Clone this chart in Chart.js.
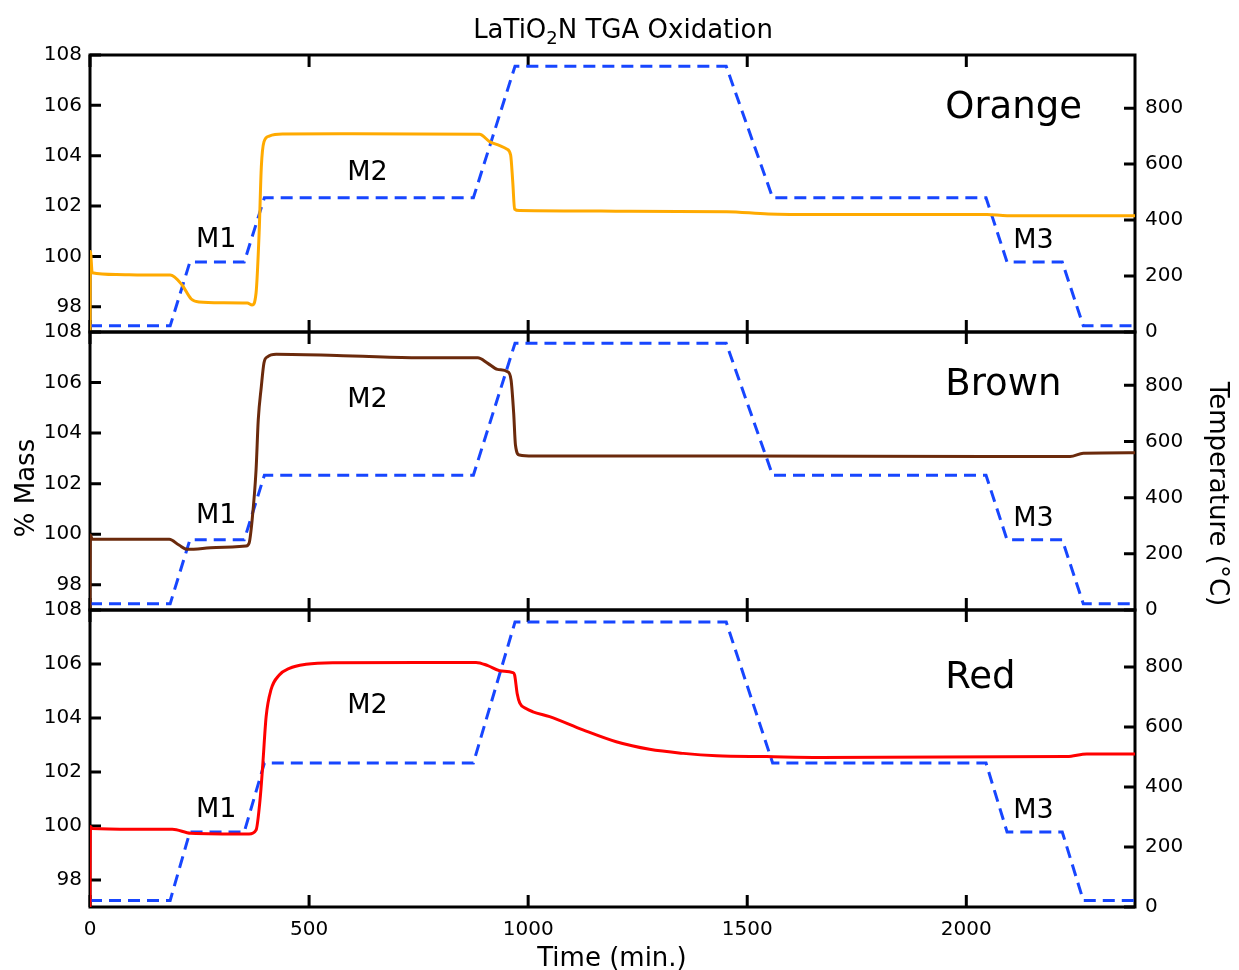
<!DOCTYPE html>
<html>
<head>
<meta charset="utf-8">
<title>LaTiO2N TGA Oxidation</title>
<script src="https://cdn.jsdelivr.net/npm/chart.js@4.4.1/dist/chart.umd.min.js"></script>
<style>
  body { margin: 0; background: #fff; }
  #wrap { position: relative; width: 1239px; height: 970px; }
  #wrap canvas { position: absolute; left: 0; top: 0; }
</style>
</head>
<body>
<div id="wrap">
  <canvas id="orange" width="1239" height="970"></canvas>
  <canvas id="brown" width="1239" height="970"></canvas>
  <canvas id="red" width="1239" height="970"></canvas>
</div>
<script>
// furnace program, shared by all three runs (min, degC)
const tempTime = [0, 183, 228, 352, 398, 875, 970, 1452, 1558, 2045, 2093, 2219, 2267, 2385];
const tempC    = [22, 22, 250, 250, 480, 480, 950, 950, 480, 480, 250, 250, 22, 22];

// % mass traces
const orangeTime = [0, 1, 5, 60, 120, 183, 210, 231, 249, 300, 359, 370, 379, 386, 391, 397, 409, 439, 600, 889, 912, 935, 951, 960, 965, 969, 980, 1200, 1453, 1548, 1666, 2047, 2093, 2385];
const orangeMass = [97.0, 100.2, 99.35, 99.28, 99.26, 99.26, 98.87, 98.31, 98.19, 98.16, 98.15, 98.07, 98.55, 100.93, 103.55, 104.55, 104.78, 104.86, 104.87, 104.85, 104.56, 104.40, 104.27, 104.03, 102.92, 101.88, 101.82, 101.80, 101.78, 101.69, 101.67, 101.67, 101.62, 101.62];

const brownTime = [0, 1, 5, 100, 181, 203, 222, 288, 356, 363, 370, 379, 384, 391, 397, 405, 425, 600, 752, 885, 908, 930, 953, 961, 967, 971, 980, 1011, 1500, 2047, 2237, 2267, 2385];
const brownMass = [97.0, 99.97, 99.80, 99.80, 99.80, 99.57, 99.40, 99.47, 99.53, 99.64, 100.56, 102.54, 104.52, 105.84, 106.77, 107.02, 107.12, 107.05, 106.98, 106.98, 106.76, 106.52, 106.43, 106.10, 104.78, 103.53, 103.13, 103.09, 103.09, 103.07, 103.07, 103.20, 103.22];

const redTime = [0, 1, 5, 97, 188, 230, 363, 379, 388, 394, 402, 413, 432, 455, 493, 554, 752, 881, 908, 935, 965, 969, 975, 981, 995, 1011, 1049, 1125, 1201, 1277, 1354, 1430, 1544, 1666, 2230, 2275, 2385];
const redMass = [97.0, 99.98, 99.91, 99.88, 99.88, 99.73, 99.70, 99.85, 100.96, 102.20, 104.05, 105.04, 105.59, 105.84, 105.99, 106.05, 106.06, 106.06, 105.94, 105.75, 105.68, 105.60, 104.90, 104.55, 104.35, 104.23, 104.05, 103.56, 103.12, 102.84, 102.69, 102.60, 102.57, 102.54, 102.57, 102.67, 102.67];

// axes
const timeTicks = [0, 500, 1000, 1500, 2000];
const massTicks = [98, 100, 102, 104, 106, 108];
const tempTicks = [0, 200, 400, 600, 800];
const stepLabels = ['M1', 'M2', 'M3'];

const FONT = '"DejaVu Sans", "Noto Sans", sans-serif';
const tickFont = { family: FONT, size: 20 };
Chart.defaults.color = '#000';

const panels = [
  { id: 'orange', name: 'Orange', color: '#ffaa00', time: orangeTime, mass: orangeMass,
    top: 55, bottom: 332, nameAt: [1952, 105.5],
    marks: [[242, 100.37], [587, 103.04], [2107, 100.33]] },
  { id: 'brown', name: 'Brown', color: '#6b2a0c', time: brownTime, mass: brownMass,
    top: 332, bottom: 610, nameAt: [1952, 105.51],
    marks: [[242, 100.44], [587, 105.03], [2107, 100.32]] },
  { id: 'red', name: 'Red', color: '#ff0000', time: redTime, mass: redMass,
    top: 610, bottom: 907, nameAt: [1952, 105.11],
    marks: [[242, 100.33], [587, 104.19], [2107, 100.30]] }
];

const toPoints = (xs, ys) => xs.map((x, i) => ({ x, y: ys[i] }));
const fixTicks = list => scale => { scale.ticks = list.map(v => ({ value: v })); };

// box around each panel with inward tick marks, under the traces
const framePlugin = {
  id: 'frame',
  beforeDatasetsDraw(chart) {
    const { ctx, chartArea: a, scales } = chart;
    ctx.save();
    ctx.strokeStyle = '#000';
    ctx.lineWidth = 3;
    ctx.strokeRect(a.left, a.top, a.right - a.left, a.bottom - a.top);
    ctx.beginPath();
    timeTicks.forEach(v => {
      const x = scales.x.getPixelForValue(v);
      ctx.moveTo(x, a.top); ctx.lineTo(x, a.top + 12);
      ctx.moveTo(x, a.bottom); ctx.lineTo(x, a.bottom - 12);
    });
    massTicks.forEach(v => {
      const y = scales.mass.getPixelForValue(v);
      ctx.moveTo(a.left, y); ctx.lineTo(a.left + 11, y);
    });
    tempTicks.forEach(v => {
      const y = scales.temp.getPixelForValue(v);
      ctx.moveTo(a.right, y); ctx.lineTo(a.right - 11, y);
    });
    ctx.stroke();
    ctx.restore();
  }
};

// sample name and M1..M3 step labels
const notesPlugin = {
  id: 'notes',
  afterDatasetsDraw(chart, args, opts) {
    const p = panels[opts.panel];
    const { ctx, scales: { x, mass } } = chart;
    ctx.save();
    ctx.fillStyle = '#000';
    ctx.textAlign = 'left';
    ctx.textBaseline = 'alphabetic';
    ctx.font = '37px ' + FONT;
    ctx.fillText(p.name, x.getPixelForValue(p.nameAt[0]), mass.getPixelForValue(p.nameAt[1]));
    ctx.font = '27px ' + FONT;
    p.marks.forEach((m, i) => {
      ctx.fillText(stepLabels[i], x.getPixelForValue(m[0]), mass.getPixelForValue(m[1]));
    });
    ctx.restore();
  }
};

// figure title and the shared axis titles
const pageTextPlugin = {
  id: 'pageText',
  afterDraw(chart) {
    const ctx = chart.ctx;
    ctx.save();
    ctx.fillStyle = '#000';
    ctx.textBaseline = 'alphabetic';

    const big = '26px ' + FONT, sub = '18px ' + FONT;
    const parts = [['LaTiO', big, 0], ['2', sub, 6], ['N TGA Oxidation', big, 0]];
    let w = 0;
    parts.forEach(([t, f]) => { ctx.font = f; w += ctx.measureText(t).width; });
    let x = 623 - w / 2;
    ctx.textAlign = 'left';
    parts.forEach(([t, f, dy]) => {
      ctx.font = f;
      ctx.fillText(t, x, 38 + dy);
      x += ctx.measureText(t).width;
    });

    ctx.font = '26px ' + FONT;
    ctx.textAlign = 'center';
    ctx.fillText('Time (min.)', 612, 966);

    ctx.save();
    ctx.translate(34, 488);
    ctx.rotate(-Math.PI / 2);
    ctx.fillText('% Mass', 0, 0);
    ctx.restore();

    ctx.save();
    ctx.translate(1210, 494);
    ctx.rotate(Math.PI / 2);
    ctx.fillText('Temperature (\u00B0C)', 0, 0);
    ctx.restore();

    ctx.restore();
  }
};

panels.forEach((p, idx) => {
  const last = idx === panels.length - 1;
  new Chart(document.getElementById(p.id), {
    type: 'line',
    data: {
      datasets: [
        {
          label: p.name,
          data: toPoints(p.time, p.mass),
          yAxisID: 'mass',
          borderColor: p.color,
          borderWidth: 3,
          pointRadius: 0,
          cubicInterpolationMode: 'monotone',
          order: 0
        },
        {
          label: 'Temperature',
          data: toPoints(tempTime, tempC),
          yAxisID: 'temp',
          borderColor: '#1746ff',
          borderWidth: 3,
          borderDash: [12, 7],
          pointRadius: 0,
          tension: 0,
          order: 1
        }
      ]
    },
    options: {
      responsive: false,
      animation: false,
      devicePixelRatio: 1,
      layout: { padding: { top: p.top, bottom: last ? 0 : 970 - p.bottom, left: 0, right: 0 } },
      plugins: { legend: { display: false }, tooltip: { enabled: false }, notes: { panel: idx } },
      scales: {
        x: {
          type: 'linear',
          min: 0,
          max: 2385,
          grid: { display: false, drawTicks: false },
          border: { display: false },
          ticks: { display: last, padding: 11, maxRotation: 0, font: tickFont, callback: v => String(v) },
          afterBuildTicks: fixTicks(timeTicks),
          afterFit: s => { s.height = last ? 970 - p.bottom : 0; }
        },
        mass: {
          type: 'linear',
          position: 'left',
          min: 97,
          max: 108,
          grid: { display: false, drawTicks: false },
          border: { display: false },
          ticks: { padding: 8, font: tickFont },
          afterBuildTicks: fixTicks(massTicks),
          afterFit: s => { s.width = 90; }
        },
        temp: {
          type: 'linear',
          position: 'right',
          min: 0,
          max: 990,
          grid: { display: false, drawTicks: false },
          border: { display: false },
          ticks: { padding: 10, font: tickFont },
          afterBuildTicks: fixTicks(tempTicks),
          afterFit: s => { s.width = 104; }
        }
      }
    },
    plugins: last ? [framePlugin, notesPlugin, pageTextPlugin] : [framePlugin, notesPlugin]
  });
});
</script>
</body>
</html>
